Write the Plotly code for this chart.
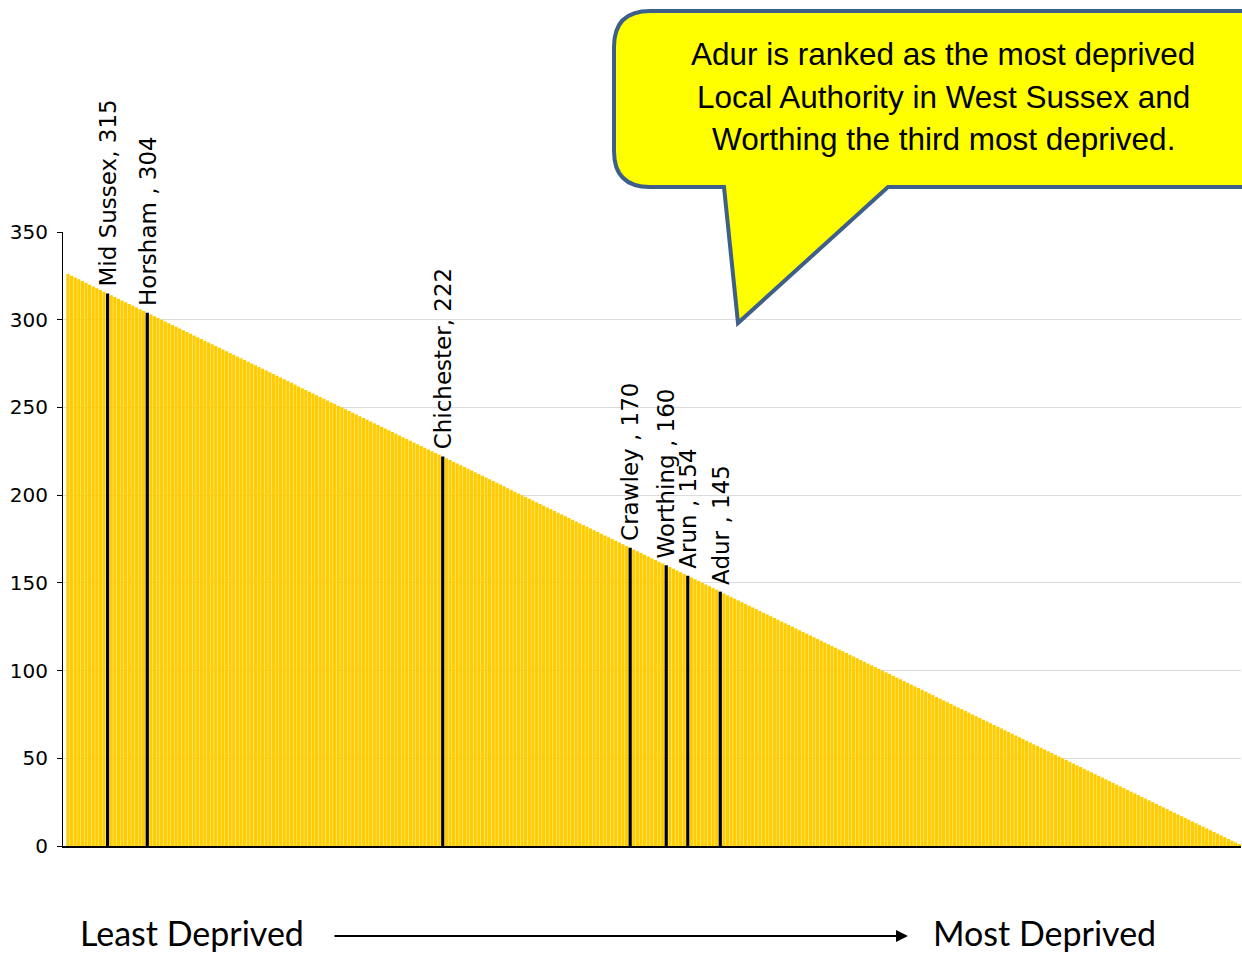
import plotly.graph_objects as go

# Rank of each Local Authority (326 = least deprived ... 1 = most deprived)
ranks = [
    326, 325, 324, 323, 322, 321, 320, 319, 318, 317, 316, 315, 314, 313, 312, 311, 310, 309, 308, 307,
    306, 305, 304, 303, 302, 301, 300, 299, 298, 297, 296, 295, 294, 293, 292, 291, 290, 289, 288, 287,
    286, 285, 284, 283, 282, 281, 280, 279, 278, 277, 276, 275, 274, 273, 272, 271, 270, 269, 268, 267,
    266, 265, 264, 263, 262, 261, 260, 259, 258, 257, 256, 255, 254, 253, 252, 251, 250, 249, 248, 247,
    246, 245, 244, 243, 242, 241, 240, 239, 238, 237, 236, 235, 234, 233, 232, 231, 230, 229, 228, 227,
    226, 225, 224, 223, 222, 221, 220, 219, 218, 217, 216, 215, 214, 213, 212, 211, 210, 209, 208, 207,
    206, 205, 204, 203, 202, 201, 200, 199, 198, 197, 196, 195, 194, 193, 192, 191, 190, 189, 188, 187,
    186, 185, 184, 183, 182, 181, 180, 179, 178, 177, 176, 175, 174, 173, 172, 171, 170, 169, 168, 167,
    166, 165, 164, 163, 162, 161, 160, 159, 158, 157, 156, 155, 154, 153, 152, 151, 150, 149, 148, 147,
    146, 145, 144, 143, 142, 141, 140, 139, 138, 137, 136, 135, 134, 133, 132, 131, 130, 129, 128, 127,
    126, 125, 124, 123, 122, 121, 120, 119, 118, 117, 116, 115, 114, 113, 112, 111, 110, 109, 108, 107,
    106, 105, 104, 103, 102, 101, 100, 99, 98, 97, 96, 95, 94, 93, 92, 91, 90, 89, 88, 87,
    86, 85, 84, 83, 82, 81, 80, 79, 78, 77, 76, 75, 74, 73, 72, 71, 70, 69, 68, 67,
    66, 65, 64, 63, 62, 61, 60, 59, 58, 57, 56, 55, 54, 53, 52, 51, 50, 49, 48, 47,
    46, 45, 44, 43, 42, 41, 40, 39, 38, 37, 36, 35, 34, 33, 32, 31, 30, 29, 28, 27,
    26, 25, 24, 23, 22, 21, 20, 19, 18, 17, 16, 15, 14, 13, 12, 11, 10, 9, 8, 7,
    6, 5, 4, 3, 2, 1,
]

# West Sussex authorities highlighted
ws_names = ["Mid Sussex", "Horsham", "Chichester", "Crawley", "Worthing", "Arun", "Adur"]
ws_ranks = [315, 304, 222, 170, 160, 154, 145]
ws_labels = ["Mid Sussex, 315", "Horsham , 304", "Chichester, 222", "Crawley , 170",
             "Worthing , 160", "Arun , 154", "Adur , 145"]

y_ticks = [0, 50, 100, 150, 200, 250, 300, 350]

callout_lines = ["Adur is ranked as the most deprived",
                 "Local Authority in West Sussex and",
                 "Worthing the third most deprived."]

xs = list(range(len(ranks)))
pos_of = {r: i for i, r in enumerate(ranks)}
colors = ["#000000" if r in ws_ranks else "#FFCC00" for r in ranks]

W, H = 1242, 956
L, R, T, B = 63, 1, 232, 110
pw, ph = W - L - R, H - T - B


def px(x):
    return (x - L) / pw


def py(y):
    return (H - B - y) / ph


fig = go.Figure()
fig.add_trace(go.Bar(x=xs, y=ranks, marker=dict(color=colors, line=dict(width=0)),
                     hoverinfo="skip"))

annotations = []
for lab, r in zip(ws_labels, ws_ranks):
    annotations.append(dict(x=pos_of[r], y=r, xref="x", yref="y", text=lab, textangle=-90,
                            showarrow=False, xanchor="center", yanchor="bottom", yshift=5,
                            font=dict(family="DejaVu Sans", size=23, color="#000000")))

# Callout shape (rounded rectangle with pointer)
pts = [
    ("M", 650, 11), ("L", 1270, 11), ("L", 1270, 187), ("L", 888, 187), ("L", 738, 323),
    ("L", 724, 187), ("L", 650, 187),
]
path = ""
for c, x, y in pts:
    path += f"{c}{px(x):.5f},{py(y):.5f} "
path += f"Q{px(614):.5f},{py(187):.5f} {px(614):.5f},{py(151):.5f} "
path += f"L{px(614):.5f},{py(47):.5f} "
path += f"Q{px(614):.5f},{py(11):.5f} {px(650):.5f},{py(11):.5f} Z"

shapes = [dict(type="path", xref="paper", yref="paper", path=path,
               fillcolor="#FFFF00", line=dict(color="#3E5F8A", width=4), layer="above")]

for i, line in enumerate(callout_lines):
    annotations.append(dict(x=px(943), y=py(54 + i * 42.5), xref="paper", yref="paper",
                            text=line, showarrow=False, xanchor="center", yanchor="middle",
                            font=dict(family="Liberation Sans", size=31.5, color="#000000")))

annotations.append(dict(x=px(192), y=py(955), xref="paper", yref="paper", text="Least Deprived",
                        showarrow=False, xanchor="center", yanchor="bottom",
                        font=dict(family="Lato", size=34, color="#000000")))
annotations.append(dict(x=px(1044), y=py(955), xref="paper", yref="paper", text="Most Deprived",
                        showarrow=False, xanchor="center", yanchor="bottom",
                        font=dict(family="Lato", size=34, color="#000000")))
annotations.append(dict(x=px(908), y=py(936), xref="paper", yref="paper", text="",
                        showarrow=True, ax=-575, ay=0, axref="pixel", ayref="pixel",
                        arrowhead=2, arrowsize=1.2, arrowwidth=2, arrowcolor="#000000",
                        standoff=0, startstandoff=0))

fig.update_layout(
    width=W, height=H,
    margin=dict(l=L, r=R, t=T, b=B),
    paper_bgcolor="#FFFFFF", plot_bgcolor="#FFFFFF",
    bargap=0.1, showlegend=False,
    shapes=shapes, annotations=annotations,
    xaxis=dict(range=[-1.38, len(ranks) - 0.5], showticklabels=False, ticks="",
               showgrid=False, zeroline=False, showline=True, linecolor="#000000", linewidth=2),
    yaxis=dict(range=[0, 350], tickvals=y_ticks, ticks="outside", ticklen=5, tickcolor="#000000",
               tickfont=dict(family="DejaVu Sans", size=20, color="#000000"),
               showgrid=True, gridcolor="#DCDCDC", gridwidth=1, zeroline=False,
               showline=True, linecolor="#000000", linewidth=1, ticklabelstandoff=5),
)

fig.write_html("out.html", config={"displayModeBar": False},
               post_script="document.body.style.margin='0px';"
                           "document.body.style.overflow='hidden';")
